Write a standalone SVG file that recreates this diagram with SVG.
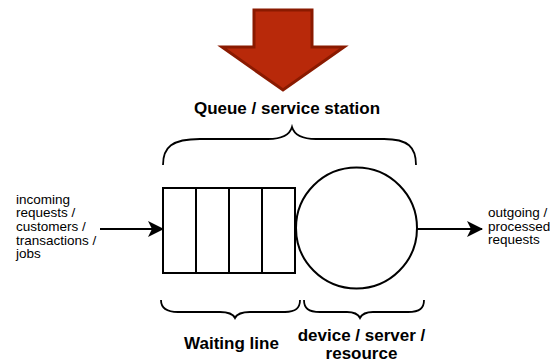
<svg xmlns="http://www.w3.org/2000/svg" width="552" height="363" viewBox="0 0 552 363">
  <defs>
    <marker id="arrow" viewBox="0 0 16 16" refX="15" refY="8" markerWidth="16" markerHeight="16" markerUnits="userSpaceOnUse" orient="auto">
      <path d="M0,0 L16,8 L0,16 L4,8 Z" fill="#000"/>
    </marker>
    <style>
      .shape { fill: #fff; stroke: #000; stroke-width: 2; }
      .brace { fill: none; stroke: #000; stroke-width: 1.8; }
      .edge { fill: none; stroke: #000; stroke-width: 2; marker-end: url(#arrow); }
      .label { font-family: "Liberation Sans", Arial, sans-serif; font-size: 13.5px; fill: #000; }
      .title { font-family: "Liberation Sans", Arial, sans-serif; font-size: 17px; font-weight: bold; fill: #000; text-anchor: middle; }
    </style>
  </defs>
  <rect width="552" height="363" fill="#fff"/>

  <!-- big red down arrow -->
  <g id="down-arrow">
    <polygon points="254,10 312,10 312,47 344,47 283,90 222,47 254,47" fill="#B8290A" stroke="#8A1A00" stroke-width="3" stroke-linejoin="miter"/>
  </g>

  <g id="station-label">
    <text class="title" x="287" y="114">Queue / service station</text>
  </g>

  <!-- brace over the whole station -->
  <g id="station-brace">
    <path class="brace" d="M163,165 C163,147 172,139 200,139 L268,139 C284,139 290,134 292,127 C294,134 300,139 316,139 L384,139 C408,139 416,147 416,165"/>
  </g>

  <!-- waiting line: four slots -->
  <g id="queue">
    <rect class="shape" x="163" y="188" width="132" height="85"/>
    <line x1="196" y1="188" x2="196" y2="273" stroke="#000" stroke-width="2"/>
    <line x1="229" y1="188" x2="229" y2="273" stroke="#000" stroke-width="2"/>
    <line x1="262" y1="188" x2="262" y2="273" stroke="#000" stroke-width="2"/>
  </g>

  <!-- server -->
  <g id="server">
    <circle class="shape" cx="356.5" cy="228" r="60.5"/>
  </g>

  <g id="connectors">
    <line class="edge" x1="100" y1="229" x2="163" y2="229"/>
    <line class="edge" x1="417" y1="229" x2="482" y2="229"/>
  </g>

  <g id="incoming-label">
    <text class="label" x="16" y="203.5">incoming</text>
    <text class="label" x="16" y="217.2">requests /</text>
    <text class="label" x="16" y="230.9">customers /</text>
    <text class="label" x="16" y="244.6">transactions /</text>
    <text class="label" x="16" y="258.3">jobs</text>
  </g>

  <g id="outgoing-label">
    <text class="label" x="488" y="217">outgoing /</text>
    <text class="label" x="488" y="230.7">processed</text>
    <text class="label" x="488" y="244.4">requests</text>
  </g>

  <!-- braces under queue and server -->
  <g id="queue-brace">
    <path class="brace" d="M161,300 C161,308 166,312 178,312 L220,312 C229,312 233,314 235,318 C237,314 241,312 250,312 L285,312 C296,312 300,308 300,300"/>
  </g>
  <g id="server-brace">
    <path class="brace" d="M304,300 C304,308 308,312 320,312 L347,312 C355,312 358,314 360,318 C362,314 365,312 373,312 L408,312 C420,312 424,308 424,300"/>
  </g>

  <g id="waiting-label">
    <text class="title" x="231.5" y="349">Waiting line</text>
  </g>
  <g id="server-label">
    <text class="title" x="361.5" y="341">device / server /</text>
    <text class="title" x="361.5" y="359">resource</text>
  </g>
</svg>
